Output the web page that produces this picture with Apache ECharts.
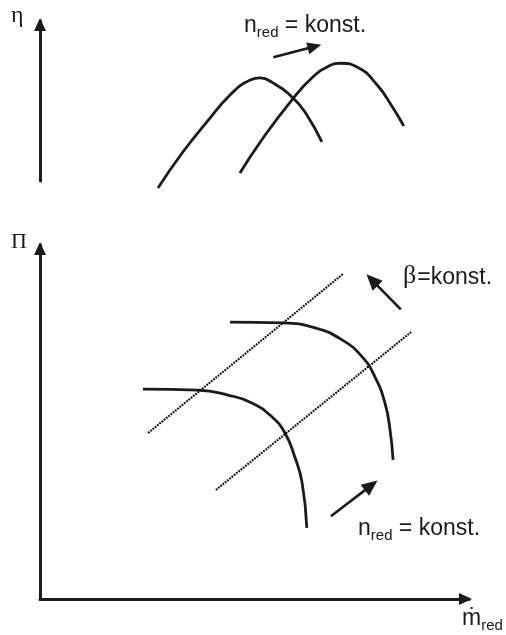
<!DOCTYPE html>
<html>
<head>
<meta charset="utf-8">
<script src="https://cdn.jsdelivr.net/npm/echarts@6/dist/echarts.min.js"></script>
<style>
  html, body { margin: 0; padding: 0; background: #ffffff; }
  #chart { width: 506px; height: 635px; }
</style>
</head>
<body>
<div id="chart"></div>
<script>
// Efficiency over reduced mass flow, one curve per reduced speed  [m_red, eta]
const etaSpeedLow = [[2.75,-0.44],[3.33,1.81],[3.89,3.69],[4.43,5.38],[4.90,6.31],[5.13,6.44],[5.43,6.13],[5.90,5.19],[6.22,4.13],[6.57,2.44]];
const etaSpeedHigh = [[4.66,0.50],[5.20,2.69],[5.87,5.06],[6.36,6.50],[6.76,7.22],[6.99,7.36],[7.39,7.13],[7.86,6.00],[8.23,4.56],[8.48,3.44]];

// Pressure ratio over reduced mass flow: constant-speed lines  [m_red, Pi]
const piSpeedLow = [[2.40,5.93],[3.68,5.90],[4.38,5.76],[4.94,5.54],[5.41,5.14],[5.71,4.69],[5.94,4.01],[6.11,3.28],[6.22,2.01]];
const piSpeedHigh = [[4.43,7.82],[5.64,7.80],[6.41,7.66],[7.04,7.32],[7.51,6.84],[7.81,6.27],[8.04,5.54],[8.16,4.77],[8.23,3.93]];

// Lines of constant beta (auxiliary coordinate)
const betaLineA = [[2.52,4.69],[7.06,9.18]];
const betaLineB = [[4.10,3.08],[8.65,7.54]];

// Direction arrows [start, head]
const arrowSpeedTop = [[5.44,7.73],[6.40,8.40]];
const arrowSpeedBottom = [[6.78,2.34],[7.72,3.21]];
const arrowBeta = [[8.41,8.18],[7.74,9.01]];

// Axis and annotation texts
const axisNames = { eta: 'η', pi: 'Π', flow: 'ṁ', flowSub: 'red' };
const speedLabel = { main: 'n', sub: 'red', rest: ' = konst.' };
const betaLabel = { sym: 'β', rest: '=konst.' };

const INK = '#1c1a1b';
const SANS = '"Liberation Sans", Arial, Helvetica, sans-serif';
const SERIF = '"Liberation Serif", "Times New Roman", serif';

const chart = echarts.init(document.getElementById('chart'), null, { renderer: 'canvas' });

const arrowAxisLine = {
  show: true,
  onZero: false,
  symbol: ['none', 'triangle'],
  symbolSize: [12, 13],
  symbolOffset: [0, -3.5],
  lineStyle: { color: INK, width: 3 }
};
const hidden = { show: false };

function curve(data, xi, yi) {
  return {
    type: 'line', xAxisIndex: xi, yAxisIndex: yi, data: data,
    smooth: 0.5, showSymbol: false, clip: false, silent: true,
    lineStyle: { color: INK, width: 2.8 }
  };
}
function dotted(data) {
  return {
    type: 'line', xAxisIndex: 1, yAxisIndex: 1, data: data,
    showSymbol: false, clip: false, silent: true,
    lineStyle: { color: '#0a0a0a', width: 2.1, type: [1.8, 1.1] }
  };
}
function arrow(pts, xi, yi, size) {
  return {
    type: 'line', xAxisIndex: xi, yAxisIndex: yi, data: [],
    silent: true,
    markLine: {
      silent: true, animation: false,
      symbolSize: size,
      label: { show: false },
      lineStyle: { color: INK, width: 2.6, type: 'solid' },
      data: [[
        { coord: pts[0], symbol: 'none' },
        { coord: pts[1], symbol: 'triangle' }
      ]]
    }
  };
}

const subRich = {
  n: { fontFamily: SANS, fontSize: 23, lineHeight: 26, padding: [0, 0, 3, 0], verticalAlign: 'bottom', fill: INK, color: INK },
  s: { fontFamily: SANS, fontSize: 15, lineHeight: 16, verticalAlign: 'bottom', fill: INK, color: INK },
  g: { fontFamily: SERIF, fontSize: 26, lineHeight: 26, padding: [0, 1, 3, 0], verticalAlign: 'bottom', fill: INK, color: INK }
};

chart.setOption({
  animation: false,
  backgroundColor: '#ffffff',
  grid: [
    { left: 40, top: 21, width: 429, height: 160 },
    { left: 40, top: 245, width: 429, height: 354 }
  ],
  xAxis: [
    { gridIndex: 0, type: 'value', min: 0, max: 10, show: false },
    { gridIndex: 1, type: 'value', min: 0, max: 10,
      axisLine: arrowAxisLine, axisTick: hidden, axisLabel: hidden, splitLine: hidden }
  ],
  yAxis: [
    { gridIndex: 0, type: 'value', min: 0, max: 10,
      axisLine: arrowAxisLine, axisTick: hidden, axisLabel: hidden, splitLine: hidden },
    { gridIndex: 1, type: 'value', min: 0, max: 10,
      axisLine: arrowAxisLine, axisTick: hidden, axisLabel: hidden, splitLine: hidden }
  ],
  series: [
    curve(etaSpeedLow, 0, 0),
    curve(etaSpeedHigh, 0, 0),
    curve(piSpeedLow, 1, 1),
    curve(piSpeedHigh, 1, 1),
    dotted(betaLineA),
    dotted(betaLineB),
    arrow(arrowSpeedTop, 0, 0, [12, 14]),
    arrow(arrowSpeedBottom, 1, 1, [14, 16]),
    arrow(arrowBeta, 1, 1, [14, 16])
  ],
  graphic: [
    { type: 'text', x: 11, y: 28, silent: true,
      style: { text: axisNames.eta, font: '24px ' + SERIF, fill: INK, align: 'left', verticalAlign: 'bottom' } },
    { type: 'text', x: 11, y: 253, silent: true,
      style: { text: axisNames.pi, font: '22px ' + SERIF, fill: INK, align: 'left', verticalAlign: 'bottom' } },
    { type: 'text', x: 244, y: 40, silent: true,
      style: { text: '{n|' + speedLabel.main + '}{s|' + speedLabel.sub + '}{n|' + speedLabel.rest + '}',
               rich: subRich, align: 'left', verticalAlign: 'bottom' } },
    { type: 'text', x: 358, y: 543, silent: true,
      style: { text: '{n|' + speedLabel.main + '}{s|' + speedLabel.sub + '}{n|' + speedLabel.rest + '}',
               rich: subRich, align: 'left', verticalAlign: 'bottom' } },
    { type: 'text', x: 403, y: 292, silent: true,
      style: { text: '{g|' + betaLabel.sym + '}{n|' + betaLabel.rest + '}',
               rich: subRich, align: 'left', verticalAlign: 'bottom' } },
    { type: 'text', x: 462, y: 633, silent: true,
      style: { text: '{n|' + axisNames.flow + '}{s|' + axisNames.flowSub + '}',
               rich: subRich, align: 'left', verticalAlign: 'bottom' } }
  ]
});
</script>
</body>
</html>
